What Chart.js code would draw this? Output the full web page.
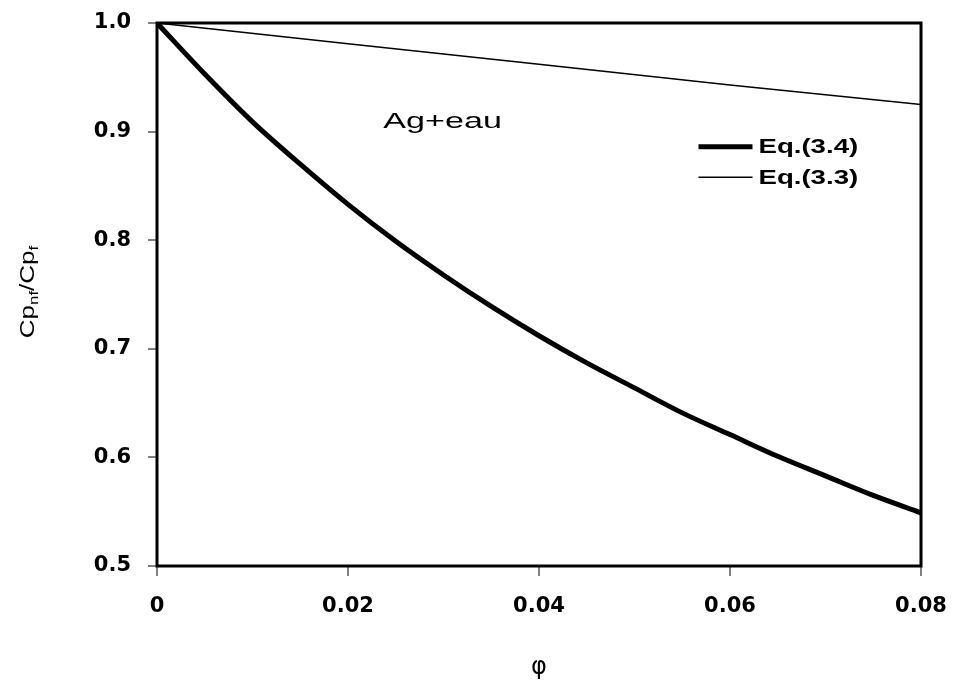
<!DOCTYPE html>
<html>
<head>
<meta charset="utf-8">
<script src="https://cdn.jsdelivr.net/npm/chart.js@4"></script>
<style>
  html, body { margin: 0; padding: 0; background: #fff; }
  #wrap { width: 958px; height: 690px; }
</style>
</head>
<body>
<div id="wrap"><canvas id="chart" width="958" height="690"></canvas></div>
<script>
  // ---------- data ----------
  const phi = [0, 0.005, 0.01, 0.015, 0.02, 0.025, 0.03, 0.035, 0.04, 0.045, 0.05, 0.055, 0.06, 0.065, 0.07, 0.075, 0.08];
  const eq34 = [1.0, 0.953, 0.909, 0.870, 0.833, 0.799, 0.768, 0.739, 0.712, 0.687, 0.664, 0.641, 0.621, 0.601, 0.583, 0.565, 0.549];
  const phiLin = [0, 0.02, 0.04, 0.06, 0.08];
  const eq33 = [1.0, 0.981, 0.962, 0.943, 0.925];
  const seriesNames = ["Eq.(3.4)", "Eq.(3.3)"];
  const xTicks = [0, 0.02, 0.04, 0.06, 0.08];
  const yTicks = [0.5, 0.6, 0.7, 0.8, 0.9, 1.0];
  const note = "Ag+eau";

  const toXY = (xs, ys) => xs.map((x, i) => ({ x, y: ys[i] }));

  // stretched text, like the original bitmap
  function wideText(ctx, txt, x, y, sx){
    ctx.save();
    ctx.translate(x, y);
    ctx.scale(sx, 1);
    ctx.fillText(txt, 0, 0);
    ctx.restore();
  }

  function noPad(s){
    s.paddingTop = 0; s.paddingBottom = 0; s.paddingLeft = 0; s.paddingRight = 0;
  }

  const extras = {
    id: "extras",
    afterDatasetsDraw(chart){
      const ctx = chart.ctx;
      const a = chart.chartArea;
      const xs = chart.scales.x, ys = chart.scales.y;

      // box
      ctx.save();
      ctx.strokeStyle = "#000";
      ctx.lineWidth = 3;
      ctx.strokeRect(a.left, a.top, a.right - a.left, a.bottom - a.top);
      ctx.restore();

      ctx.save();
      ctx.fillStyle = "#000";
      ctx.textBaseline = "middle";
      ctx.textAlign = "left";

      // annotation
      ctx.font = "22px 'Liberation Sans', Arial";
      wideText(ctx, note, xs.getPixelForValue(0.0237), ys.getPixelForValue(0.909), 1.55);

      // legend
      const lx = xs.getPixelForValue(0.0567);
      const items = [
        { y: ys.getPixelForValue(0.886), w: 5, label: seriesNames[0] },
        { y: ys.getPixelForValue(0.858), w: 1.5, label: seriesNames[1] }
      ];
      items.forEach(it => {
        ctx.beginPath();
        ctx.lineWidth = it.w;
        ctx.strokeStyle = "#000";
        ctx.moveTo(lx, it.y);
        ctx.lineTo(lx + 54, it.y);
        ctx.stroke();
        ctx.font = "bold 20px 'Liberation Sans', Arial";
        wideText(ctx, it.label, lx + 60, it.y + 1, 1.38);
      });

      // x title
      ctx.textAlign = "center";
      ctx.font = "24px 'DejaVu Sans'";
      ctx.fillText("\u03C6", (a.left + a.right) / 2, 668);

      // y title with subscripts, rotated
      ctx.translate(28, 292);
      ctx.rotate(-Math.PI / 2);
      ctx.scale(1.3, 1);
      const parts = [["Cp", 0], ["nf", 1], ["/Cp", 0], ["f", 1]];
      let total = 0;
      parts.forEach(p => {
        ctx.font = p[1] ? "13px 'Liberation Sans', Arial" : "20px 'Liberation Sans', Arial";
        total += ctx.measureText(p[0]).width;
      });
      let px = -total / 2;
      ctx.textAlign = "left";
      parts.forEach(p => {
        ctx.font = p[1] ? "13px 'Liberation Sans', Arial" : "20px 'Liberation Sans', Arial";
        ctx.fillText(p[0], px, p[1] ? 6 : 0);
        px += ctx.measureText(p[0]).width;
      });
      ctx.restore();
    }
  };

  new Chart(document.getElementById("chart"), {
    type: "line",
    data: {
      datasets: [
        { label: seriesNames[0], data: toXY(phi, eq34), borderColor: "#000", borderWidth: 5, pointRadius: 0, cubicInterpolationMode: "monotone", fill: false },
        { label: seriesNames[1], data: toXY(phiLin, eq33), borderColor: "#000", borderWidth: 1.5, pointRadius: 0, fill: false }
      ]
    },
    options: {
      responsive: false,
      animation: false,
      layout: { padding: { left: 0, right: 37, top: 23, bottom: 0 } },
      plugins: { legend: { display: false }, tooltip: { enabled: false } },
      scales: {
        x: {
          type: "linear",
          min: 0, max: 0.08,
          afterBuildTicks: s => { s.ticks = xTicks.map(v => ({ value: v })); },
          afterFit: s => { s.height = 124; noPad(s); },
          grid: { drawOnChartArea: false, drawTicks: true, tickLength: 10, color: "#808080", lineWidth: 2 },
          border: { display: true, color: "#808080", width: 2 },
          ticks: {
            padding: 18,
            color: "#000",
            font: { family: "'DejaVu Sans'", weight: "bold", size: 21 },
            callback: v => v === 0 ? "0" : v.toFixed(2)
          }
        },
        y: {
          min: 0.5, max: 1.0,
          afterBuildTicks: s => { s.ticks = yTicks.map(v => ({ value: v })); },
          afterFit: s => { s.width = 157; noPad(s); },
          grid: { drawOnChartArea: false, drawTicks: true, tickLength: 9, color: "#808080", lineWidth: 2 },
          border: { display: true, color: "#808080", width: 2 },
          ticks: {
            padding: 17,
            color: "#000",
            font: { family: "'DejaVu Sans'", weight: "bold", size: 21 },
            callback: v => v.toFixed(1)
          }
        }
      }
    },
    plugins: [extras]
  });
</script>
</body>
</html>
